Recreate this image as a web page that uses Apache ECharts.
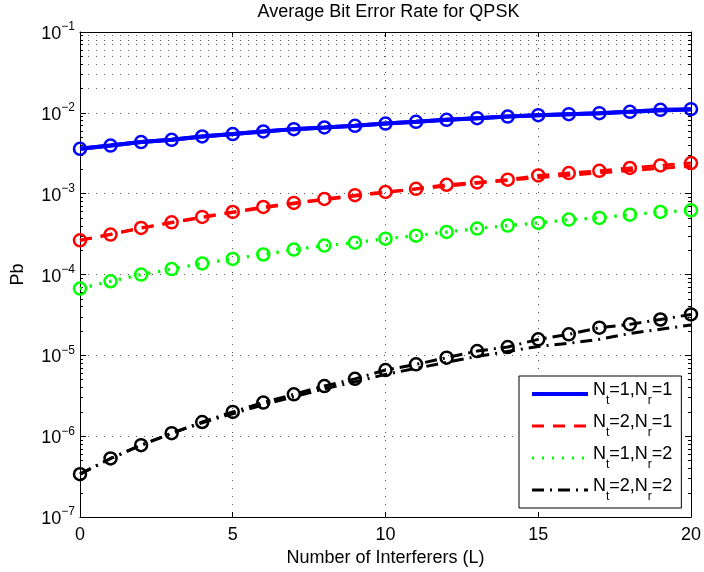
<!DOCTYPE html>
<html>
<head>
<meta charset="utf-8">
<script src="https://cdn.jsdelivr.net/npm/echarts@6/dist/echarts.min.js"></script>
<style>html,body{margin:0;padding:0;background:#fff}#chart{width:704px;height:572px}</style>
</head>
<body>
<div id="chart"></div>
<script>
// ---------- data ----------
const interferers = [0,1,2,3,4,5,6,7,8,9,10,11,12,13,14,15,16,17,18,19,20];

// analytical curves (lines)
const theoryN11 = [3.59e-3,3.94e-3,4.35e-3,4.64e-3,5.10e-3,5.46e-3,5.88e-3,6.29e-3,6.59e-3,6.92e-3,7.38e-3,7.75e-3,8.20e-3,8.60e-3,9.00e-3,9.37e-3,9.64e-3,9.91e-3,1.03e-2,1.07e-2,1.10e-2];
const theoryN21 = [2.65e-4,3.16e-4,3.75e-4,4.38e-4,5.08e-4,5.86e-4,6.68e-4,7.53e-4,8.44e-4,9.37e-4,1.04e-3,1.14e-3,1.24e-3,1.35e-3,1.46e-3,1.58e-3,1.69e-3,1.81e-3,1.93e-3,2.06e-3,2.19e-3];
const theoryN12 = [6.71e-5,8.26e-5,1.00e-4,1.17e-4,1.37e-4,1.56e-4,1.77e-4,2.03e-4,2.27e-4,2.48e-4,2.78e-4,3.03e-4,3.36e-4,3.70e-4,4.03e-4,4.35e-4,4.75e-4,5.05e-4,5.50e-4,5.90e-4,6.20e-4];
const theoryN22 = [3.40e-7,5.31e-7,7.75e-7,1.09e-6,1.47e-6,1.90e-6,2.45e-6,3.08e-6,3.86e-6,4.71e-6,5.82e-6,6.91e-6,8.20e-6,9.72e-6,1.12e-5,1.29e-5,1.41e-5,1.58e-5,1.87e-5,2.10e-5,2.38e-5];

// simulated points (circles)
const simN11 = [3.59e-3,3.94e-3,4.35e-3,4.64e-3,5.10e-3,5.46e-3,5.88e-3,6.29e-3,6.59e-3,6.92e-3,7.38e-3,7.75e-3,8.20e-3,8.60e-3,9.00e-3,9.37e-3,9.64e-3,9.91e-3,1.03e-2,1.09e-2,1.11e-2];
const simN21 = [2.65e-4,3.12e-4,3.77e-4,4.43e-4,5.16e-4,5.94e-4,6.85e-4,7.68e-4,8.60e-4,9.58e-4,1.05e-3,1.15e-3,1.29e-3,1.38e-3,1.49e-3,1.68e-3,1.80e-3,1.92e-3,2.08e-3,2.24e-3,2.39e-3];
const simN12 = [6.71e-5,8.26e-5,1.00e-4,1.17e-4,1.37e-4,1.56e-4,1.77e-4,2.04e-4,2.28e-4,2.48e-4,2.78e-4,3.03e-4,3.36e-4,3.70e-4,4.03e-4,4.35e-4,4.78e-4,5.01e-4,5.51e-4,5.94e-4,6.22e-4];
const simN22 = [3.40e-7,5.31e-7,7.75e-7,1.09e-6,1.50e-6,2.00e-6,2.61e-6,3.30e-6,4.18e-6,5.13e-6,6.59e-6,7.75e-6,9.37e-6,1.13e-5,1.27e-5,1.58e-5,1.82e-5,2.20e-5,2.42e-5,2.78e-5,3.21e-5];

const seriesNames = ['Nt=1,Nr=1','Nt=2,Nr=1','Nt=1,Nr=2','Nt=2,Nr=2'];
const legendRich = [
  '{a|N}{s|t}{a|=1,N}{s|r}{a|=1}',
  '{a|N}{s|t}{a|=2,N}{s|r}{a|=1}',
  '{a|N}{s|t}{a|=1,N}{s|r}{a|=2}',
  '{a|N}{s|t}{a|=2,N}{s|r}{a|=2}'
];
const yMin = 1e-7, yMax = 1e-1;
const titleText = 'Average Bit Error Rate for QPSK';
const xName = 'Number of Interferers (L)';
const yName = 'Pb';

// ---------- styling ----------
const FONT = '"Liberation Sans", Arial, Helvetica, sans-serif';
const FS = 18;
const colors = ['#0000ff','#ff0000','#00ff00','#000000'];
const widths = [4, 3, 3, 3];
const dashes = ['solid', [12, 9], [2, 8], [12, 6, 2, 6]];
const theory = [theoryN11, theoryN21, theoryN12, theoryN22];
const sim = [simN11, simN21, simN12, simN22];

const pairs = arr => interferers.map((x, i) => [x, arr[i]]);
const gridDot = { type: [1, 7], color: '#555', width: 1 };

// minor grid lines and minor ticks for the log axis (2..9 x 10^n)
const minorVals = [];
for (let e = -7; e <= -2; e++) for (let m = 2; m <= 9; m++) minorVals.push(m * Math.pow(10, e));
const markData = [];
minorVals.forEach(v => {
  markData.push({ yAxis: v, lineStyle: gridDot });
  markData.push([{ coord: [0, v], lineStyle: { type: 'solid', color: '#000', width: 1 } }, { coord: [0.1, v] }]);
  markData.push([{ coord: [19.9, v], lineStyle: { type: 'solid', color: '#000', width: 1 } }, { coord: [20, v] }]);
});

const series = [];
series.push({
  type: 'line', name: '_grid', data: [], z: 1, silent: true,
  markLine: { silent: true, symbol: ['none', 'none'], label: { show: false }, animation: false,
    emphasis: { disabled: true }, data: markData }
});
theory.forEach((arr, k) => {
  series.push({
    type: 'line', name: seriesNames[k], data: pairs(arr), z: 10,
    symbol: 'none', showSymbol: false, smooth: false,
    color: colors[k],
    lineStyle: { color: colors[k], width: widths[k], type: dashes[k] }
  });
});
sim.forEach((arr, k) => {
  series.push({
    type: 'line', name: 'sim' + k, data: pairs(arr), z: 11,
    symbol: 'circle', symbolSize: 12, showSymbol: true,
    lineStyle: { color: colors[k], width: widths[k], type: dashes[k] },
    itemStyle: { color: 'rgba(0,0,0,0)', borderColor: colors[k], borderWidth: 2.5 }
  });
});

const chart = echarts.init(document.getElementById('chart'), null, { renderer: 'canvas' });
chart.setOption({
  animation: false,
  backgroundColor: '#fff',
  textStyle: { fontFamily: FONT },
  grid: { left: 80, right: 7, top: 32, bottom: 54, containLabel: false },
  graphic: [{
    type: 'text', x: 388.5, y: 3, z: 50,
    style: { text: titleText, fill: '#000', font: FS + 'px ' + FONT, textAlign: 'center', textVerticalAlign: 'top' }
  }],
  legend: {
    data: seriesNames, orient: 'vertical', left: 519, top: 376, z: 30,
    backgroundColor: '#fff', borderColor: '#000', borderWidth: 1, borderRadius: 0,
    padding: [5, 9, 5, 11], itemGap: 6, itemWidth: 56, itemHeight: 14,
    selectedMode: false,
    itemStyle: { opacity: 0 },
    lineStyle: { width: 'inherit' },
    formatter: name => legendRich[seriesNames.indexOf(name)],
    textStyle: {
      fontFamily: FONT, fontSize: FS, color: '#000',
      rich: {
        a: { fontFamily: FONT, fontSize: FS, color: '#000', lineHeight: 26, verticalAlign: 'top' },
        s: { fontFamily: FONT, fontSize: 12, color: '#000', lineHeight: 12, verticalAlign: 'bottom' }
      }
    }
  },
  xAxis: [{
    type: 'value', min: 0, max: 20, interval: 5,
    name: xName, nameLocation: 'middle', nameGap: 29,
    nameTextStyle: { fontFamily: FONT, fontSize: FS, color: '#000' },
    axisLine: { show: true, onZero: false, lineStyle: { color: '#000', width: 1 } },
    axisTick: { show: true, inside: true, length: 5, lineStyle: { color: '#000' } },
    axisLabel: { fontFamily: FONT, fontSize: FS, color: '#000', margin: 9 },
    splitLine: { show: true, lineStyle: gridDot }
  }, {
    type: 'value', min: 0, max: 20, interval: 5, position: 'top',
    axisLine: { show: true, onZero: false, lineStyle: { color: '#000', width: 1 } },
    axisTick: { show: true, inside: true, length: 5, lineStyle: { color: '#000' } },
    axisLabel: { show: false }, splitLine: { show: false }
  }],
  yAxis: [{
    type: 'log', logBase: 10, min: yMin, max: yMax, splitNumber: 6,
    name: yName, nameLocation: 'middle', nameGap: 53,
    nameTextStyle: { fontFamily: FONT, fontSize: FS, color: '#000' },
    axisLine: { show: true, onZero: false, lineStyle: { color: '#000', width: 1 } },
    axisTick: { show: true, inside: true, length: 6, lineStyle: { color: '#000' } },
    axisLabel: {
      margin: 5, color: '#000',
      formatter: v => {
        const e = Math.round(Math.log10(v));
        return '{b|10}{p|' + String(e).replace('-', '\u2212') + '}';
      },
      rich: {
        b: { fontFamily: FONT, fontSize: FS, color: '#000', lineHeight: 22, verticalAlign: 'bottom' },
        p: { fontFamily: FONT, fontSize: 12, color: '#000', lineHeight: 12, verticalAlign: 'top' }
      }
    },
    splitLine: { show: true, lineStyle: gridDot }
  }, {
    type: 'log', logBase: 10, min: yMin, max: yMax, splitNumber: 6, position: 'right',
    axisLine: { show: true, onZero: false, lineStyle: { color: '#000', width: 1 } },
    axisTick: { show: true, inside: true, length: 6, lineStyle: { color: '#000' } },
    axisLabel: { show: false }, splitLine: { show: false }
  }],
  series: series
});
</script>
</body>
</html>
